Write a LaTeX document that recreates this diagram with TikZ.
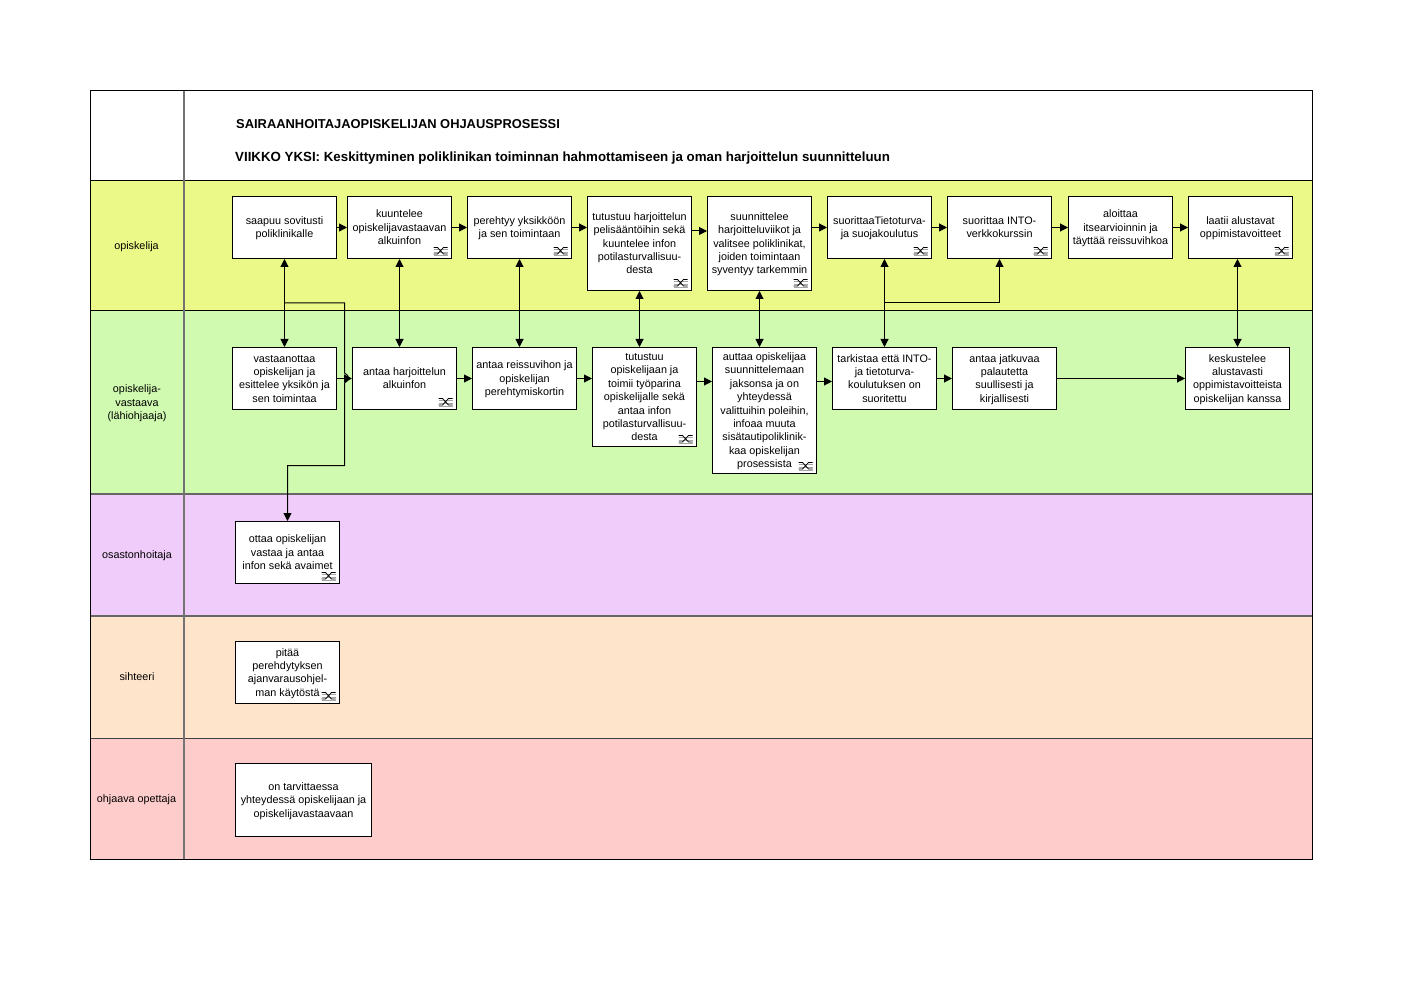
\documentclass[tikz,border=0pt]{standalone}
\usepackage{fontspec}
\setmainfont{Liberation Sans}
\usetikzlibrary{arrows.meta}
\definecolor{laneY}{RGB}{235,249,136}
\definecolor{laneG}{RGB}{207,250,175}
\definecolor{laneP}{RGB}{240,204,250}
\definecolor{laneO}{RGB}{255,228,204}
\definecolor{laneR}{RGB}{255,204,204}
\newcommand{\bx}[1]{\raisebox{-1pt}[\height][\depth]{\begin{tabular}{@{}c@{}}#1\end{tabular}}}
\tikzset{
  x=1pt,y=-1pt,
  every node/.style={font=\fontsize{10.8}{13.4}\selectfont,text=black},
  procbox/.style 2 args={draw=black,fill=white,line width=1pt,minimum width=#1pt,minimum height=#2pt,inner sep=0pt},
  lanelabel/.style={align=center,inner sep=0pt},
  titletext/.style={anchor=west,inner sep=0pt},
  flow/.style={draw=black,line width=1pt,-{Triangle[length=8pt,width=8pt]}},
  both/.style={draw=black,line width=1pt,{Triangle[length=8pt,width=8pt]}-{Triangle[length=8pt,width=8pt]}},
  linkicon/.pic={
    \draw[gray!70,line width=.9pt] (-18.5,-10)--(-4.5,-10) (-18.5,-7)--(-4.5,-7) (-18.5,-4)--(-4.5,-4);
    \draw[black,line width=.8pt] (-18.5,-11.5)--(-14.5,-11.5)--(-8.5,-5)--(-4.5,-5) (-18.5,-5)--(-14.5,-5)--(-8.5,-11.5)--(-4.5,-11.5);
  }
}
\begin{document}
\begin{tikzpicture}
\useasboundingbox[fill=white] (0,0) rectangle (1403,992);
% lanes
\fill[laneY] (90,180) rectangle (1312,310);
\fill[laneG] (90,310) rectangle (1312,494);
\fill[laneP] (90,494) rectangle (1312,616);
\fill[laneO] (90,616) rectangle (1312,738);
\fill[laneR] (90,738) rectangle (1312,860);
\draw[black,line width=1pt] (90,180.5)--(1312,180.5) (90,310.5)--(1312,310.5);
\draw[black!60,line width=1.4pt] (90,494)--(1312,494);
\draw[black!60,line width=1.6pt] (90,616)--(1312,616);
\draw[black!75,line width=1pt] (90,738)--(1312,738);
\draw[black!55,line width=1.6pt] (184,90)--(184,860);
\draw[black,line width=1pt] (90.5,90.5) rectangle (1312.5,859.5);
% titles
\node[titletext,font=\fontsize{12.9}{14}\bfseries\selectfont] (t1) at (236,124) {SAIRAANHOITAJAOPISKELIJAN OHJAUSPROSESSI};
\node[titletext,font=\fontsize{13.3}{14}\bfseries\selectfont] (t2) at (235,158) {VIIKKO YKSI: Keskittyminen poliklinikan toiminnan hahmottamiseen ja oman harjoittelun suunnitteluun};
% lane labels
\node[lanelabel] (l1) at (136.5,247) {opiskelija};
\node[lanelabel] (l2) at (137,403.5) {opiskelija-\\vastaava\\(lähiohjaaja)};
\node[lanelabel] (l3) at (137,556) {osastonhoitaja};
\node[lanelabel] (l4) at (137,677) {sihteeri};
\node[lanelabel] (l5) at (136.5,800) {ohjaava opettaja};
% row 1
\node[procbox={104}{62}] (a1) at (284.5,227.5) {\bx{saapuu sovitusti\\poliklinikalle}};
\node[procbox={104}{62}] (a2) at (399.5,227.5) {\bx{kuuntelee\\opiskelijavastaavan\\alkuinfon}};
\node[procbox={104}{62}] (a3) at (519.5,227.5) {\bx{perehtyy yksikköön\\ja sen toimintaan}};
\node[procbox={104}{94}] (a4) at (639.5,243.5) {\bx{tutustuu harjoittelun\\pelisääntöihin sekä\\kuuntelee infon\\potilasturvallisuu-\\desta}};
\node[procbox={104}{94}] (a5) at (759.5,243.5) {\bx{suunnittelee\\harjoitteluviikot ja\\valitsee poliklinikat,\\joiden toimintaan\\syventyy tarkemmin}};
\node[procbox={104}{62}] (a6) at (879.5,227.5) {\bx{suorittaaTietoturva-\\ja suojakoulutus}};
\node[procbox={104}{62}] (a7) at (999.5,227.5) {\bx{suorittaa INTO-\\verkkokurssin}};
\node[procbox={104}{62}] (a8) at (1120.5,227.5) {\bx{aloittaa\\itsearvioinnin ja\\täyttää reissuvihkoa}};
\node[procbox={104}{62}] (a9) at (1240.5,227.5) {\bx{laatii alustavat\\oppimistavoitteet}};
% row 2
\node[procbox={104}{62}] (b1) at (284.5,378.5) {\bx{vastaanottaa\\opiskelijan ja\\esittelee yksikön ja\\sen toimintaa}};
\node[procbox={104}{62}] (b2) at (404.5,378.5) {\bx{antaa harjoittelun\\alkuinfon}};
\node[procbox={104}{62}] (b3) at (524.5,378.5) {\bx{antaa reissuvihon ja\\opiskelijan\\perehtymiskortin}};
\node[procbox={104}{99}] (b4) at (644.5,397) {\bx{tutustuu\\opiskelijaan ja\\toimii työparina\\opiskelijalle sekä\\antaa infon\\potilasturvallisuu-\\desta}};
\node[procbox={104}{126}] (b5) at (764.5,410.5) {\bx{auttaa opiskelijaa\\suunnittelemaan\\jaksonsa ja on\\yhteydessä\\valittuihin poleihin,\\infoaa muuta\\sisätautipoliklinik-\\kaa opiskelijan\\prosessista}};
\node[procbox={104}{62}] (b6) at (884.5,378.5) {\bx{tarkistaa että INTO-\\ja tietoturva-\\koulutuksen on\\suoritettu}};
\node[procbox={104}{62}] (b7) at (1004.5,378.5) {\bx{antaa jatkuvaa\\palautetta\\suullisesti ja\\kirjallisesti}};
\node[procbox={104}{62}] (b8) at (1237.5,378.5) {\bx{keskustelee\\alustavasti\\oppimistavoitteista\\opiskelijan kanssa}};
% other lanes
\node[procbox={104}{62}] (c1) at (287.5,552.5) {\bx{ottaa opiskelijan\\vastaa ja antaa\\infon sekä avaimet}};
\node[procbox={104}{62}] (d1) at (287.5,672.5) {\bx{pitää\\perehdytyksen\\ajanvarausohjel-\\man käytöstä}};
\node[procbox={136}{73}] (e1) at (303.5,800) {\bx{on tarvittaessa\\yhteydessä opiskelijaan ja\\opiskelijavastaavaan}};
% link icons
\foreach \n in {a2,a3,a4,a5,a6,a7,a9,b2,b4,b5,c1,d1}{
  \pic at (\n.south east) {linkicon};
}
% waypoints
\coordinate (j1) at (284.5,303);
\coordinate (j2) at (344.5,303);
\coordinate (j3) at (344.5,373);
\coordinate (j4) at (344.5,383);
\coordinate (j5) at (344.5,465.5);
\coordinate (k1) at (884.5,303);
% row 1 flow
\draw[flow] (a1.east) -- (a2.west);
\draw[flow] (a2.east) -- (a3.west);
\draw[flow] (a3.east) -- (a3.east -| a4.west);
\draw[flow] ([yshift=12.5pt]a4.east) -- ([yshift=12.5pt]a4.east -| a5.west);
\draw[flow] (a6.west -| a5.east) -- (a6.west);
\draw[flow] (a6.east) -- (a7.west);
\draw[flow] (a7.east) -- (a8.west);
\draw[flow] (a8.east) -- (a9.west);
% row 2 flow
\draw[flow] (b1.east) -- (b2.west);
\draw[flow] (b2.east) -- (b3.west);
\draw[flow] (b3.east) -- (b3.east -| b4.west);
\draw[flow] ([yshift=15.5pt]b4.east) -- ([yshift=15.5pt]b4.east -| b5.west);
\draw[flow] ([yshift=29pt]b5.east) -- ([yshift=-3pt]b6.west);
\draw[flow] (b6.east) -- (b7.west);
\draw[flow] (b7.east) -- (b8.west);
% vertical links
\draw[both] (a1.south) -- (b1.north);
\draw[both] (a2.south) -- (a2.south |- b2.north);
\draw[both] (a3.south) -- (a3.south |- b3.north);
\draw[both] (a4.south) -- (a4.south |- b4.north);
\draw[both] (a5.south) -- (a5.south |- b5.north);
\draw[both] (b6.north) -- (b6.north |- a6.south);
\draw[both] (b8.north) -- (b8.north |- a9.south);
% branches
\draw[flow] (j1) -- (j2) -- (j3) .. controls (350,376) and (350,380) .. (j4) -- (j5) -| (c1.north);
\draw[flow] (k1) -| (a7.south);
\end{tikzpicture}
\end{document}
